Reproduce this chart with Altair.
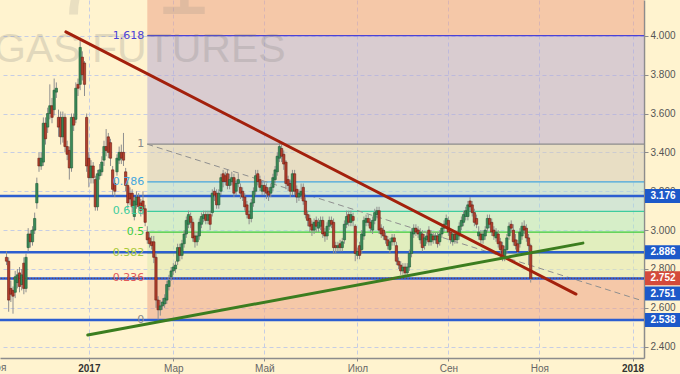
import altair as alt
import pandas as pd

# ---------------- candle data (trading-day index 0 = early Nov 2016) ----------------
opens = [2.86, 2.84, 2.70, 2.69, 2.68, 2.73, 2.78, 2.72, 2.83, 2.70,
         2.91, 2.98, 2.94, 3.00, 3.14, 3.37, 3.33, 3.35, 3.55, 3.53,
         3.60, 3.64, 3.62, 3.71, 3.58, 3.58, 3.48, 3.58, 3.43, 3.41,
         3.32, 3.58, 3.57, 3.75, 3.75, 3.89, 3.86, 3.58, 3.37, 3.27,
         3.33, 3.26, 3.12, 3.28, 3.30, 3.36, 3.43, 3.48, 3.45, 3.31,
         3.24, 3.30, 3.36, 3.40, 3.40, 3.30, 3.23, 3.19, 3.19, 3.07,
         3.13, 3.17, 3.14, 3.15, 3.11, 2.99, 2.96, 2.94, 2.94, 2.86,
         2.64, 2.59, 2.61, 2.62, 2.64, 2.71, 2.76, 2.79, 2.80, 2.84,
         2.91, 2.87, 2.93, 2.98, 3.03, 3.07, 3.04, 2.97, 2.94, 2.97,
         3.03, 3.06, 3.08, 3.05, 3.08, 3.09, 3.20, 3.19, 3.13, 3.20,
         3.29, 3.28, 3.29, 3.23, 3.25, 3.27, 3.20, 3.24, 3.22, 3.20,
         3.17, 3.13, 3.08, 3.06, 3.14, 3.20, 3.29, 3.26, 3.20, 3.23,
         3.22, 3.20, 3.19, 3.22, 3.26, 3.30, 3.37, 3.42, 3.39, 3.35,
         3.26, 3.24, 3.20, 3.29, 3.21, 3.17, 3.18, 3.22, 3.15, 3.08,
         3.06, 3.03, 3.00, 3.05, 3.01, 3.02, 3.05, 2.99, 2.97, 3.02,
         3.05, 3.04, 2.92, 2.91, 2.93, 2.91, 2.95, 3.03, 3.08, 3.04,
         3.07, 3.02, 2.87, 2.92, 2.90, 2.97, 3.04, 3.06, 3.04, 3.00,
         3.05, 3.08, 3.10, 3.01, 3.00, 2.97, 2.95, 2.90, 2.94, 2.96,
         2.92, 2.84, 2.82, 2.79, 2.81, 2.78, 2.81, 2.88, 2.98, 3.01,
         3.00, 2.95, 2.98, 2.92, 2.95, 3.00, 2.94, 2.97, 2.95, 2.97,
         2.94, 2.98, 3.01, 3.03, 3.05, 2.99, 2.94, 2.98, 2.95, 2.97,
         3.02, 3.04, 3.07, 3.07, 3.15, 3.13, 3.09, 3.06, 2.97, 2.98,
         2.95, 2.97, 3.01, 3.06, 3.04, 3.00, 2.96, 2.98, 2.94, 2.92,
         2.86, 2.90, 2.97, 3.03, 3.00, 2.95, 2.93, 2.93, 2.97, 3.02,
         3.01, 2.96, 2.92]
closes = [2.84, 2.64, 2.67, 2.66, 2.76, 2.77, 2.71, 2.77, 2.70, 2.86,
          2.98, 2.94, 3.00, 3.06, 3.24, 3.33, 3.37, 3.55, 3.47, 3.60,
          3.64, 3.58, 3.72, 3.73, 3.53, 3.48, 3.58, 3.43, 3.39, 3.32,
          3.58, 3.54, 3.73, 3.73, 3.94, 3.80, 3.75, 3.33, 3.27, 3.33,
          3.27, 3.12, 3.29, 3.31, 3.35, 3.43, 3.41, 3.40, 3.37, 3.21,
          3.20, 3.37, 3.40, 3.37, 3.36, 3.23, 3.14, 3.16, 3.12, 3.15,
          3.17, 3.12, 3.10, 3.11, 3.04, 2.95, 2.93, 2.92, 2.86, 2.64,
          2.59, 2.61, 2.63, 2.65, 2.72, 2.74, 2.79, 2.81, 2.82, 2.91,
          2.87, 2.93, 2.98, 3.05, 3.08, 3.04, 2.96, 2.94, 2.97, 3.04,
          3.07, 3.08, 3.05, 3.08, 3.03, 3.19, 3.18, 3.13, 3.19, 3.27,
          3.25, 3.25, 3.23, 3.26, 3.27, 3.19, 3.24, 3.26, 3.19, 3.17,
          3.12, 3.08, 3.06, 3.14, 3.20, 3.28, 3.25, 3.22, 3.23, 3.20,
          3.19, 3.18, 3.22, 3.27, 3.31, 3.38, 3.43, 3.38, 3.34, 3.24,
          3.23, 3.20, 3.29, 3.20, 3.17, 3.19, 3.20, 3.15, 3.08, 3.05,
          3.02, 3.00, 3.04, 3.02, 3.04, 3.05, 2.98, 2.97, 3.02, 3.05,
          3.03, 2.91, 2.91, 2.92, 2.91, 2.94, 3.03, 3.07, 3.04, 3.08,
          3.05, 2.88, 2.89, 2.87, 2.98, 3.05, 3.06, 3.04, 3.01, 3.05,
          3.09, 3.10, 3.00, 2.98, 2.97, 2.95, 2.92, 2.94, 2.96, 2.94,
          2.84, 2.82, 2.79, 2.81, 2.78, 2.81, 2.88, 2.99, 3.01, 2.99,
          2.98, 2.99, 2.91, 2.96, 2.97, 2.94, 2.98, 2.95, 2.97, 2.93,
          2.98, 3.01, 3.03, 3.06, 2.99, 2.95, 2.98, 2.95, 2.98, 3.02,
          3.05, 3.08, 3.10, 3.13, 3.12, 3.09, 3.04, 3.03, 2.99, 2.95,
          2.98, 3.00, 3.06, 3.03, 2.99, 2.97, 2.99, 2.93, 2.90, 2.86,
          2.90, 2.96, 3.02, 3.01, 2.94, 2.92, 2.89, 2.99, 3.02, 3.00,
          2.96, 2.92, 2.752]
highs = [2.89, 2.86, 2.74, 2.71, 2.79, 2.80, 2.81, 2.80, 2.86, 2.88,
         3.01, 3.00, 3.02, 3.09, 3.27, 3.40, 3.40, 3.58, 3.58, 3.63,
         3.75, 3.68, 3.78, 3.76, 3.62, 3.61, 3.61, 3.60, 3.46, 3.43,
         3.60, 3.60, 3.76, 3.78, 3.99, 3.92, 3.87, 3.60, 3.40, 3.36,
         3.35, 3.28, 3.31, 3.34, 3.38, 3.46, 3.52, 3.50, 3.47, 3.33,
         3.26, 3.39, 3.43, 3.44, 3.50, 3.32, 3.25, 3.22, 3.21, 3.17,
         3.20, 3.19, 3.16, 3.20, 3.13, 3.02, 2.99, 2.97, 2.97, 2.88,
         2.66, 2.64, 2.65, 2.67, 2.74, 2.77, 2.81, 2.83, 2.84, 2.93,
         2.93, 2.95, 3.00, 3.07, 3.10, 3.09, 3.06, 2.99, 2.99, 3.06,
         3.09, 3.10, 3.10, 3.10, 3.10, 3.21, 3.22, 3.21, 3.21, 3.29,
         3.31, 3.30, 3.31, 3.29, 3.30, 3.29, 3.26, 3.29, 3.24, 3.22,
         3.19, 3.15, 3.10, 3.16, 3.22, 3.31, 3.31, 3.28, 3.25, 3.25,
         3.24, 3.22, 3.24, 3.29, 3.33, 3.40, 3.45, 3.44, 3.41, 3.36,
         3.28, 3.26, 3.31, 3.31, 3.23, 3.21, 3.24, 3.24, 3.17, 3.10,
         3.08, 3.05, 3.06, 3.07, 3.06, 3.07, 3.07, 3.01, 3.04, 3.07,
         3.07, 3.06, 2.94, 2.94, 2.95, 2.96, 3.05, 3.10, 3.10, 3.10,
         3.09, 3.03, 2.91, 2.94, 3.00, 3.07, 3.08, 3.08, 3.06, 3.07,
         3.11, 3.12, 3.12, 3.03, 3.02, 2.99, 2.97, 2.96, 2.98, 2.98,
         2.94, 2.86, 2.84, 2.83, 2.83, 2.83, 2.90, 3.01, 3.03, 3.03,
         3.02, 3.01, 3.00, 2.98, 2.99, 3.02, 3.00, 2.99, 2.99, 2.99,
         3.00, 3.03, 3.05, 3.08, 3.07, 3.01, 3.00, 3.00, 3.00, 3.04,
         3.07, 3.10, 3.12, 3.15, 3.17, 3.15, 3.11, 3.08, 3.02, 3.00,
         3.00, 3.02, 3.08, 3.08, 3.06, 3.02, 3.01, 3.00, 2.96, 2.94,
         2.92, 2.98, 3.04, 3.05, 3.03, 2.98, 2.95, 3.01, 3.04, 3.05,
         3.03, 2.98, 2.93]
lows = [2.82, 2.58, 2.63, 2.57, 2.65, 2.70, 2.68, 2.69, 2.67, 2.68,
        2.89, 2.91, 2.92, 2.98, 3.11, 3.30, 3.31, 3.33, 3.44, 3.50,
        3.57, 3.55, 3.59, 3.68, 3.48, 3.44, 3.45, 3.40, 3.36, 3.26,
        3.30, 3.51, 3.55, 3.69, 3.72, 3.77, 3.69, 3.30, 3.22, 3.24,
        3.24, 3.10, 3.10, 3.26, 3.28, 3.33, 3.38, 3.37, 3.33, 3.18,
        3.17, 3.28, 3.34, 3.34, 3.33, 3.20, 3.11, 3.13, 3.09, 3.05,
        3.11, 3.10, 3.07, 3.08, 3.02, 2.93, 2.91, 2.90, 2.83, 2.60,
        2.54, 2.56, 2.59, 2.60, 2.62, 2.69, 2.74, 2.77, 2.78, 2.82,
        2.84, 2.85, 2.91, 2.96, 3.01, 3.01, 2.94, 2.91, 2.92, 2.95,
        3.01, 3.04, 3.03, 3.03, 3.00, 3.07, 3.15, 3.11, 3.11, 3.18,
        3.22, 3.23, 3.21, 3.21, 3.23, 3.17, 3.18, 3.22, 3.16, 3.15,
        3.10, 3.06, 3.03, 3.04, 3.12, 3.18, 3.23, 3.20, 3.18, 3.18,
        3.16, 3.15, 3.17, 3.20, 3.24, 3.28, 3.35, 3.35, 3.31, 3.21,
        3.20, 3.17, 3.18, 3.18, 3.14, 3.15, 3.16, 3.13, 3.06, 3.02,
        2.99, 2.97, 2.98, 2.99, 2.99, 3.00, 2.96, 2.94, 2.95, 3.00,
        3.01, 2.88, 2.88, 2.89, 2.89, 2.89, 2.93, 3.01, 3.02, 3.02,
        3.02, 2.84, 2.85, 2.85, 2.88, 2.95, 3.02, 3.02, 2.99, 2.98,
        3.03, 3.06, 2.98, 2.96, 2.95, 2.93, 2.90, 2.88, 2.92, 2.92,
        2.82, 2.80, 2.77, 2.77, 2.76, 2.76, 2.79, 2.86, 2.96, 2.97,
        2.96, 2.93, 2.89, 2.90, 2.93, 2.92, 2.92, 2.93, 2.93, 2.91,
        2.92, 2.96, 2.99, 3.01, 2.97, 2.93, 2.92, 2.93, 2.93, 2.95,
        3.00, 3.02, 3.05, 3.05, 3.10, 3.07, 3.02, 3.01, 2.95, 2.93,
        2.93, 2.95, 2.99, 3.01, 2.97, 2.95, 2.94, 2.91, 2.88, 2.84,
        2.84, 2.88, 2.95, 2.99, 2.92, 2.90, 2.87, 2.91, 2.95, 2.98,
        2.94, 2.82, 2.73]

# ---------------- axis labels ----------------
month_ticks = [38, 77, 119, 162, 204, 246, 289]
month_labels = ["2017", "Мар", "Май", "Июл", "Сен", "Ноя", "2018"]
year_ticks = [38, 289]
prev_month_tick = -4.3          # "Ноя" 2016, mostly off the left edge
prev_month_label = "Ноя"
price_ticks = [2.4, 2.6, 2.8, 3.0, 3.2, 3.4, 3.6, 3.8, 4.0]

# ---------------- fibonacci tool ----------------
fib_start = 65
fib_low = 2.538
fib_high = 3.442
fib_ratios = [0, 0.236, 0.382, 0.5, 0.618, 0.786, 1, 1.618]
fib_texts = ["0", "0.236", "0.382", "0.5", "0.618", "0.786", "1", "1.618"]
fib_colors = ["#8c8c8c", "#E25B5B", "#A9C93A", "#3DCB3D", "#3DCC9E", "#45A6DE", "#8c8c8c", "#4B42D6"]
band_colors = ["#EB9D81", "#DDE9AD", "#C3E9AD", "#ADE9C1", "#A9D9D9", "#D1C9B9", "#B3A5D1", "#EB9D81"]
diag_end_x = 292
diag_end_p = 2.642

# ---------------- horizontal levels and trend lines ----------------
blue_levels = [3.176, 2.886, 2.751, 2.538]
trend_x1 = [27.4, 37.5]
trend_p1 = [4.02, 2.46]
trend_x2 = [262.9, 266.1]
trend_p2 = [2.671, 2.933]
trend_colors = ["#A3200C", "#3B7D1F"]

# ---------------- build tables ----------------
n = len(opens)
candles = pd.DataFrame({
    "i": list(range(n)), "open": opens, "close": closes, "high": highs, "low": lows,
})
candles["dir"] = ["up" if c >= o else "down" for o, c in zip(opens, closes)]

fib_prices = [fib_low + r * (fib_high - fib_low) for r in fib_ratios]
fib_df = pd.DataFrame({"p": fib_prices, "t": fib_texts, "c": fib_colors,
                       "x1": [fib_start] * 8, "x2": [300] * 8})
band_df = pd.DataFrame({
    "lo": fib_prices, "hi": fib_prices[1:] + [4.4], "c": band_colors,
    "x1": [fib_start] * 8, "x2": [300] * 8,
})
diag_df = pd.DataFrame({"x1": [fib_start], "p1": [fib_high], "x2": [diag_end_x], "p2": [diag_end_p]})
blue_df = pd.DataFrame({"p": blue_levels})
trend_df = pd.DataFrame({"x1": trend_x1, "p1": trend_p1, "x2": trend_x2, "p2": trend_p2, "c": trend_colors})
last_price = closes[-1]
last_df = pd.DataFrame({"p": [last_price], "t": [f"{last_price:.3f}"]})
box_df = pd.DataFrame({"p": [3.176, 2.886, 2.538], "t": ["3.176", "2.886", "2.538"]})
box_shift_df = pd.DataFrame({"p": [2.751], "t": ["2.751"]})
wm_df = pd.DataFrame({"t": ["GAS FUTURES"]})
wm_top_df = pd.DataFrame({"t": ["7", "1"], "xpos": [52, 156]})
prev_df = pd.DataFrame({"x": [prev_month_tick], "t": [prev_month_label]})

xs = alt.Scale(domain=[-0.7, 292.0], nice=False, zero=False)
ys = alt.Scale(domain=[2.342, 4.184], nice=False, zero=False)

label_expr = ("[" + ",".join(f"'{l}'" for l in month_labels) + "][indexof(["
              + ",".join(str(t) for t in month_ticks) + "], datum.value)]")
year_test = " || ".join(f"datum.value == {t}" for t in year_ticks)

x_axis = alt.Axis(values=month_ticks, labelExpr=label_expr, grid=True, gridDash=[4, 3],
                  gridColor="#C6CDE4", gridWidth=1, domainColor="#8C8C8C", domainWidth=1.5,
                  tickColor="#8C8C8C", tickSize=3, labelPadding=2, labelFont="Liberation Sans",
                  labelFontSize=10, labelFlush=False, labelOverlap=False, title=None,
                  labelColor={"condition": {"test": year_test, "value": "#333333"}, "value": "#666666"},
                  labelFontWeight={"condition": {"test": year_test, "value": "bold"}, "value": "normal"})
y_axis = alt.Axis(orient="right", values=price_ticks, format=".3f", grid=True, gridDash=[4, 3],
                  gridColor="#C6CDE4", gridWidth=1, domainColor="#8C8C8C", domainWidth=1.5,
                  tickColor="#8C8C8C", tickSize=4, labelPadding=2, labelFont="Liberation Sans",
                  labelFontSize=10, labelColor="#555555", title=None)


def X(field):
    return alt.X(field, scale=xs, axis=x_axis, title=None)


def Y(field):
    return alt.Y(field, scale=ys, axis=y_axis, title=None)


# ---------------- layers ----------------
bands = alt.Chart(band_df).mark_rect(opacity=0.5, clip=True).encode(
    x=X("x1:Q"), x2="x2:Q", y=Y("lo:Q"), y2="hi:Q",
    color=alt.Color("c:N", scale=None),
)

fib_lines = alt.Chart(fib_df).mark_rule(strokeWidth=1.3, clip=True).encode(
    x=X("x1:Q"), x2="x2:Q", y=Y("p:Q"),
    color=alt.Color("c:N", scale=None),
)

diag = alt.Chart(diag_df).mark_rule(strokeWidth=1, strokeDash=[6, 4], color="#8f8f8f", clip=True).encode(
    x=X("x1:Q"), x2="x2:Q", y=Y("p1:Q"), y2="p2:Q",
)

watermark = alt.Chart(wm_df).mark_text(
    align="left", baseline="alphabetic", fontSize=41, font="Liberation Sans",
    color="#7a7a7a", opacity=0.22, clip=True,
).encode(text="t:N", x=alt.value(-6), y=alt.value(62))

watermark_top = alt.Chart(wm_top_df).mark_text(
    align="left", baseline="alphabetic", fontSize=96, font="Liberation Sans",
    color="#7a7a7a", opacity=0.16, clip=True,
).encode(text="t:N", x=alt.X("xpos:Q", scale=None, axis=None), y=alt.value(14))

blue_lines = alt.Chart(blue_df).mark_rule(strokeWidth=2.5, color="#2C5ED0").encode(
    y=Y("p:Q"),
)

wicks = alt.Chart(candles).mark_rule(strokeWidth=1, color="#8f8f8f").encode(
    x=X("i:Q"), y=Y("low:Q"), y2="high:Q",
)

bodies = alt.Chart(candles).mark_bar(size=2.3, strokeWidth=0.6).encode(
    x=X("i:Q"), y=Y("open:Q"), y2="close:Q",
    fill=alt.Fill("dir:N", scale=alt.Scale(domain=["up", "down"], range=["#3A8A58", "#B23E2D"]), legend=None),
    stroke=alt.Stroke("dir:N", scale=alt.Scale(domain=["up", "down"], range=["#1D5A35", "#6A1D12"]), legend=None),
)

trends = alt.Chart(trend_df).mark_rule(strokeWidth=3, strokeCap="round").encode(
    x=X("x1:Q"), x2="x2:Q", y=Y("p1:Q"), y2="p2:Q",
    color=alt.Color("c:N", scale=None),
)

fib_labels = alt.Chart(fib_df).mark_text(
    align="right", baseline="middle", dx=-3, fontSize=11, font="DejaVu Sans",
).encode(
    x=X("x1:Q"), y=Y("p:Q"), text="t:N",
    color=alt.Color("c:N", scale=None),
)

last_line = alt.Chart(last_df).mark_rule(strokeWidth=1, strokeDash=[1, 2], color="#7a3a3a").encode(
    y=Y("p:Q"),
)

prev_label = alt.Chart(prev_df).mark_text(
    align="center", baseline="top", fontSize=10, font="Liberation Sans", color="#666666", dy=5,
).encode(x=X("x:Q"), y=alt.value(358), text="t:N")

box_rect = alt.Chart(box_df).mark_rect(yOffset=-7, y2Offset=7, color="#1D59C9").encode(
    x=alt.value(645), x2=alt.value(680), y=Y("p:Q"), y2="p:Q",
)
box_text = alt.Chart(box_df).mark_text(
    align="center", baseline="middle", fontSize=10, fontWeight="bold",
    font="Liberation Sans", color="white",
).encode(x=alt.value(663), y=Y("p:Q"), text="t:N")

shift_rect = alt.Chart(box_shift_df).mark_rect(yOffset=8, y2Offset=22, color="#1D59C9").encode(
    x=alt.value(645), x2=alt.value(680), y=Y("p:Q"), y2="p:Q",
)
shift_text = alt.Chart(box_shift_df).mark_text(
    align="center", baseline="middle", dy=15, fontSize=10, fontWeight="bold",
    font="Liberation Sans", color="white",
).encode(x=alt.value(663), y=Y("p:Q"), text="t:N")

last_rect = alt.Chart(last_df).mark_rect(yOffset=-7, y2Offset=7, color="#D44A3A").encode(
    x=alt.value(645), x2=alt.value(680), y=Y("p:Q"), y2="p:Q",
)
last_text = alt.Chart(last_df).mark_text(
    align="center", baseline="middle", fontSize=10, fontWeight="bold",
    font="Liberation Sans", color="white",
).encode(x=alt.value(663), y=Y("p:Q"), text="t:N")

chart = alt.layer(
    bands, fib_lines, diag, watermark, watermark_top, blue_lines, wicks, bodies, trends,
    fib_labels, last_line, prev_label, box_rect, box_text, shift_rect, shift_text, last_rect, last_text,
).properties(
    width=644, height=358, background="#FFF3CF",
    padding={"left": 0, "top": 0, "right": 36, "bottom": 16},
    autosize=alt.AutoSizeParams(type="none"),
).configure_view(strokeWidth=0)

chart.save("out.html", embed_options={"renderer": "svg", "actions": False})
